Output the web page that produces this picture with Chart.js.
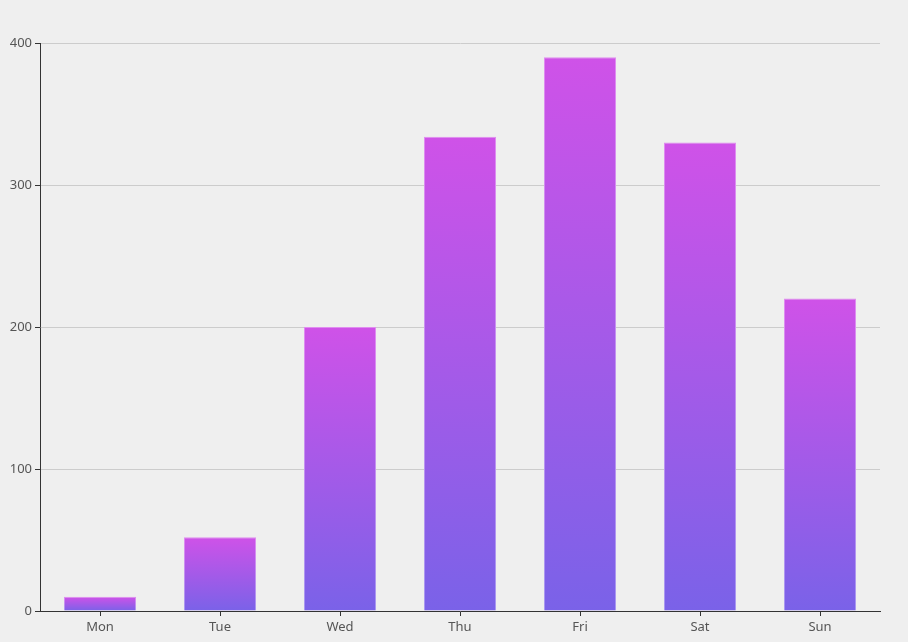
<!DOCTYPE html>
<html>
<head>
<meta charset="utf-8">
<script src="https://cdn.jsdelivr.net/npm/chart.js@4"></script>
<style>
  html, body { margin: 0; padding: 0; background: #efefef; }
  #wrap { width: 908px; height: 642px; }
</style>
</head>
<body>
<div id="wrap"><canvas id="chart"></canvas></div>
<script>
// days and values
const days = ['Mon', 'Tue', 'Wed', 'Thu', 'Fri', 'Sat', 'Sun'];
const values = [10, 52, 200, 334, 390, 330, 220];
const yTicks = [0, 100, 200, 300, 400];

// vertical gradient running from the top of each bar down to zero
function barGradient(ctx, top, bottom) {
    const c = ctx.chart;
    const y = c.scales.y;
    if (!c.chartArea || !y) return bottom;
    const v = ctx.parsed ? ctx.parsed.y : values[ctx.dataIndex];
    const y0 = y.getPixelForValue(v);
    const y1 = y.getPixelForValue(0);
    if (!isFinite(y0) || !isFinite(y1)) return bottom;
    const g = c.ctx.createLinearGradient(0, y0, 0, y1);
    g.addColorStop(0, top);
    g.addColorStop(1, bottom);
    return g;
}

new Chart(document.getElementById('chart'), {
    type: 'bar',
    data: {
        labels: days,
        datasets: [{
            data: values,
            backgroundColor: ctx => barGradient(ctx, '#cf52e8', '#7a62e8'),
            borderColor: ctx => barGradient(ctx, '#e08cf0', '#a898f0'),
            borderWidth: 1,
            barPercentage: 0.6,
            categoryPercentage: 1
        }]
    },
    options: {
        responsive: true,
        maintainAspectRatio: false,
        animation: false,
        layout: { padding: { top: 43, right: 28, left: 0, bottom: 0 } },
        plugins: { legend: { display: false }, tooltip: { enabled: false } },
        scales: {
            x: {
                offset: true,
                grid: { offset: false, drawOnChartArea: false, tickLength: 5, color: '#333' },
                border: { color: '#333' },
                ticks: { color: '#555', font: { family: 'Noto Sans', size: 13 }, padding: 3 },
                afterFit: s => { s.height = 31; }
            },
            y: {
                min: 0,
                max: 400,
                afterBuildTicks: s => { s.ticks = yTicks.map(v => ({ value: v })); },
                grid: { color: '#cccccc', tickColor: '#333', tickLength: 5 },
                border: { color: '#333' },
                ticks: { color: '#555', font: { family: 'Noto Sans', size: 13 }, padding: 3 },
                afterFit: s => { s.width = 40; }
            }
        }
    }
});
</script>
</body>
</html>
